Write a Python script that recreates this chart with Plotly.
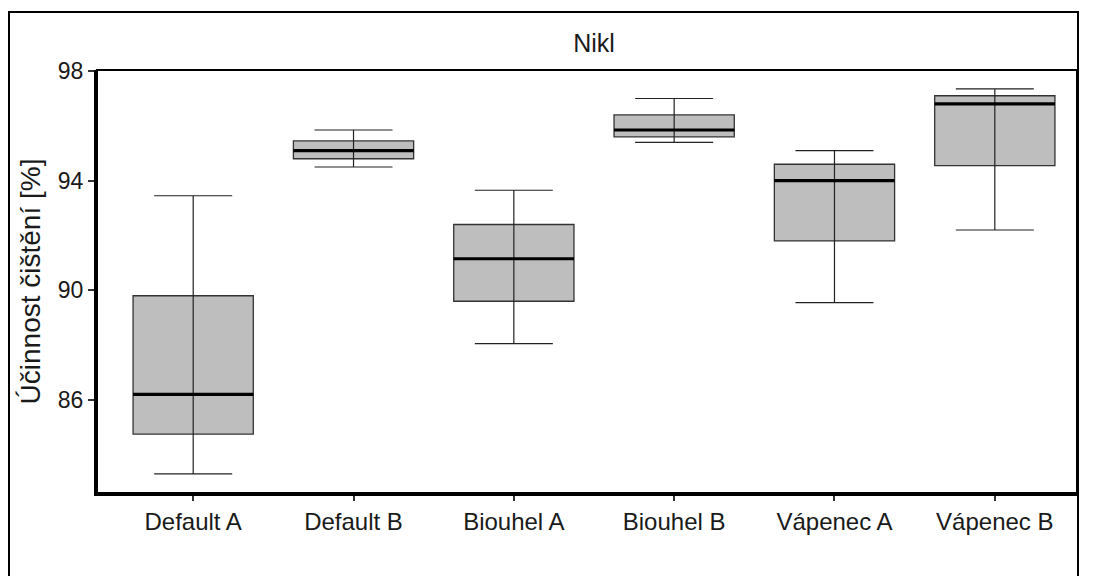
import plotly.graph_objects as go

categories = ["Default A", "Default B", "Biouhel A", "Biouhel B", "Vápenec A", "Vápenec B"]
whisker_low = [83.3, 94.5, 88.05, 95.4, 89.55, 92.2]
q1_vals = [84.75, 94.8, 89.6, 95.6, 91.8, 94.55]
median_vals = [86.2, 95.1, 91.15, 95.85, 94.0, 96.8]
q3_vals = [89.8, 95.45, 92.4, 96.4, 94.6, 97.1]
whisker_high = [93.45, 95.85, 93.65, 97.0, 95.1, 97.35]
y_ticks = [86, 90, 94, 98]

xs = list(range(len(categories)))

# page body has an 8px margin and the visible viewport ends near x=1079
W, H = 1071, 568
L, R, T, B = 89, 2, 62, 83
pw, ph = W - L - R, H - T - B
px_per_cat = 994 / 6.2  # spacing of categories in the reference

fig = go.Figure()

fig.add_trace(go.Box(
    x=xs, q1=q1_vals, median=median_vals, q3=q3_vals,
    lowerfence=q1_vals, upperfence=q3_vals,
    width=0.75, fillcolor="#bebebe",
    line=dict(color="#333333", width=1.3),
    boxpoints=False, hoverinfo="skip", showlegend=False,
))

# whiskers (error bar style with caps), drawn through the box
mid = [(lo + hi) / 2 for lo, hi in zip(whisker_low, whisker_high)]
fig.add_trace(go.Scatter(
    x=xs, y=mid, mode="markers",
    marker=dict(size=1, opacity=0),
    error_y=dict(type="data", symmetric=False,
                 array=[hi - m for hi, m in zip(whisker_high, mid)],
                 arrayminus=[m - lo for lo, m in zip(whisker_low, mid)],
                 width=39, thickness=1.2, color="#222222"),
    hoverinfo="skip", showlegend=False,
))

# thick median lines
fig.add_trace(go.Scatter(
    x=xs, y=median_vals, mode="markers",
    marker=dict(size=1, opacity=0),
    error_x=dict(type="constant", value=0.375, width=0, thickness=3.2, color="#000000"),
    hoverinfo="skip", showlegend=False,
))

font = "Liberation Sans, Arial, sans-serif"

fig.update_layout(
    width=W, height=H,
    margin=dict(l=L, r=R, t=T, b=B),
    paper_bgcolor="white", plot_bgcolor="white",
    font=dict(family=font, color="#1a1a1a"),
    title=dict(text="Nikl", x=586 / W, xanchor="center",
               y=1 - 35 / H, yanchor="middle", font=dict(size=25, color="#1a1a1a")),
    xaxis=dict(
        range=[-0.6, -0.6 + pw / px_per_cat], tickmode="array", tickvals=xs, ticktext=categories,
        showgrid=False, zeroline=False,
        showline=True, linecolor="black", linewidth=3,
        ticks="outside", ticklen=5, tickwidth=2, tickcolor="#333333",
        tickfont=dict(size=24, color="#1a1a1a"),
    ),
    yaxis=dict(
        range=[82.6, 98.04], tickmode="array", tickvals=y_ticks,
        ticktext=[str(v) for v in y_ticks],
        showgrid=False, zeroline=False,
        showline=True, linecolor="black", linewidth=3,
        ticks="outside", ticklen=6, tickwidth=2, tickcolor="#333333",
        tickfont=dict(size=23, color="#1a1a1a"),
        title=dict(text="Účinnost čištění [%]", font=dict(size=28, color="#1a1a1a"), standoff=10),
    ),
    shapes=[
        dict(type="rect", xref="paper", yref="paper", x0=0, x1=1, y0=0, y1=1,
             line=dict(color="black", width=2), fillcolor="rgba(0,0,0,0)", layer="above"),
        dict(type="rect", xref="paper", yref="paper",
             x0=(1 - L) / pw, x1=(W - 1 - L) / pw,
             y0=-0.5, y1=(H - B - 4) / ph,
             line=dict(color="black", width=2), fillcolor="rgba(0,0,0,0)", layer="above"),
    ],
)

fig.write_html("out.html")
